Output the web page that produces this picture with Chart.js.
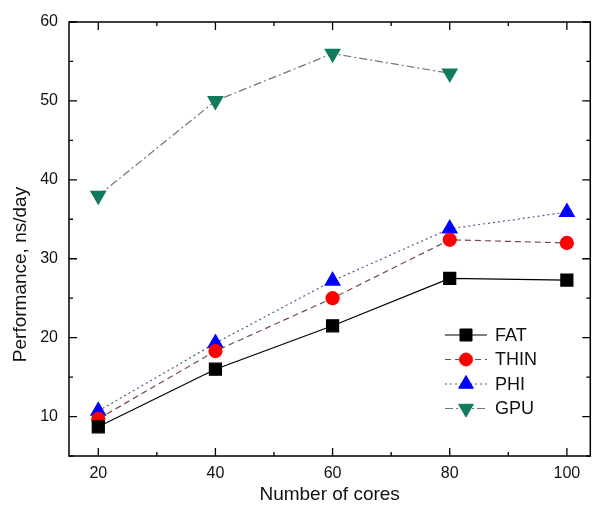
<!DOCTYPE html>
<html>
<head>
<meta charset="utf-8">
<script src="https://cdn.jsdelivr.net/npm/chart.js@4/dist/chart.umd.min.js"></script>
<style>
  html, body { margin: 0; padding: 0; background: #fff; }
  #wrap { width: 600px; height: 510px; position: relative; }
</style>
</head>
<body>
<div id="wrap"><canvas id="perfChart" width="600" height="510"></canvas></div>
<script>
// data
const cores = [20, 40, 60, 80, 100];
const fatValues = [8.7, 16.0, 21.5, 27.5, 27.3];
const thinValues = [9.7, 18.3, 25.0, 32.4, 32.0];
const phiValues = [10.7, 19.3, 27.2, 33.8, 35.9];
const gpuValues = [38.0, 50.0, 56.0, 53.5];
const xTicks = [20, 40, 60, 80, 100];
const yTicks = [10, 20, 30, 40, 50, 60];

const FONT = "'Liberation Sans', Arial, sans-serif";

function toPoints(vals) {
    return vals.map((v, i) => ({x: cores[i], y: v}));
}

function noPad(s) {
    s.paddingLeft = 0; s.paddingRight = 0;
    s.paddingTop = 0; s.paddingBottom = 0;
}

// frame + inward ticks (major and minor) on all four sides, y title
const frameTicks = {
    id: 'frameTicks',
    afterDraw(chart) {
        const ctx = chart.ctx;
        const a = chart.chartArea;
        const xs = chart.scales.x, ys = chart.scales.y;
        ctx.save();
        ctx.strokeStyle = '#000';
        ctx.lineWidth = 1.5;
        ctx.strokeRect(a.left, a.top, a.right - a.left, a.bottom - a.top);
        ctx.lineWidth = 1.3;
        ctx.beginPath();
        xTicks.forEach((t, i) => {
            const px = xs.getPixelForValue(t);
            ctx.moveTo(px, a.bottom); ctx.lineTo(px, a.bottom - 8);
            ctx.moveTo(px, a.top); ctx.lineTo(px, a.top + 8);
            if (i < xTicks.length - 1) {
                const m = xs.getPixelForValue((t + xTicks[i + 1]) / 2);
                ctx.moveTo(m, a.bottom); ctx.lineTo(m, a.bottom - 4);
                ctx.moveTo(m, a.top); ctx.lineTo(m, a.top + 4);
            }
        });
        const yMinor = [5].concat(yTicks.slice(0, -1).map((t, i) => (t + yTicks[i + 1]) / 2));
        yTicks.forEach(t => {
            const py = ys.getPixelForValue(t);
            ctx.moveTo(a.left, py); ctx.lineTo(a.left + 8, py);
            ctx.moveTo(a.right, py); ctx.lineTo(a.right - 8, py);
        });
        yMinor.forEach(t => {
            const py = ys.getPixelForValue(t);
            ctx.moveTo(a.left, py); ctx.lineTo(a.left + 4, py);
            ctx.moveTo(a.right, py); ctx.lineTo(a.right - 4, py);
        });
        ctx.stroke();

        // y axis title
        ctx.translate(21, ys.getPixelForValue(28));
        ctx.rotate(-Math.PI / 2);
        ctx.fillStyle = '#111';
        ctx.font = '19px ' + FONT;
        ctx.textAlign = 'center';
        ctx.textBaseline = 'middle';
        ctx.fillText('Performance, ns/day', 0, 0);
        ctx.restore();
    }
};

// legend drawn inside the plot, lower right
const innerLegend = {
    id: 'innerLegend',
    afterDraw(chart) {
        const ctx = chart.ctx;
        const a = chart.chartArea;
        const x0 = a.left + 376;
        const y0 = a.top + 313;
        ctx.save();
        chart.data.datasets.forEach((ds, i) => {
            const y = y0 + i * 24.5;
            ctx.strokeStyle = ds.borderColor;
            ctx.lineWidth = 1;
            ctx.setLineDash(ds.borderDash || []);
            ctx.beginPath();
            ctx.moveTo(x0, y); ctx.lineTo(x0 + 42, y);
            ctx.stroke();
            ctx.setLineDash([]);
            ctx.fillStyle = ds.pointBackgroundColor;
            ctx.strokeStyle = ds.pointBackgroundColor;
            Chart.helpers.drawPoint(ctx, {
                pointStyle: ds.pointStyle,
                radius: ds.pointRadius,
                rotation: ds.pointRotation || 0,
                borderWidth: 1
            }, x0 + 21, y);
            ctx.fillStyle = '#111';
            ctx.font = '18px ' + FONT;
            ctx.textBaseline = 'middle';
            ctx.fillText(ds.label, x0 + 50, y + 1);
        });
        ctx.restore();
    }
};

new Chart(document.getElementById('perfChart'), {
    type: 'line',
    data: {
        datasets: [
            {
                label: 'FAT', data: toPoints(fatValues),
                borderColor: '#000', borderWidth: 1.2,
                pointStyle: 'rect', pointRadius: 8.5,
                pointBackgroundColor: '#000', pointBorderColor: '#000'
            },
            {
                label: 'THIN', data: toPoints(thinValues),
                borderColor: '#7a4a4a', borderWidth: 1.2, borderDash: [6, 4],
                pointStyle: 'circle', pointRadius: 6.5,
                pointBackgroundColor: '#ff0000', pointBorderColor: '#ff0000'
            },
            {
                label: 'PHI', data: toPoints(phiValues),
                borderColor: '#5a5a8a', borderWidth: 1.2, borderDash: [2, 3],
                pointStyle: 'triangle', pointRadius: 8.5,
                pointBackgroundColor: '#0000ff', pointBorderColor: '#0000ff'
            },
            {
                label: 'GPU', data: toPoints(gpuValues),
                borderColor: '#6a7a76', borderWidth: 1.2, borderDash: [8, 3, 2, 3],
                pointStyle: 'triangle', pointRotation: 180, pointRadius: 8.5,
                pointBackgroundColor: '#117a5e', pointBorderColor: '#117a5e'
            }
        ]
    },
    options: {
        responsive: false,
        animation: false,
        layout: {padding: {left: 0, top: 22, right: 4, bottom: 0}},
        plugins: {
            legend: {display: false},
            tooltip: {enabled: false}
        },
        scales: {
            x: {
                type: 'linear', min: 15, max: 104,
                afterBuildTicks: s => { s.ticks = xTicks.map(v => ({value: v})); },
                afterFit: s => { s.height = 54; noPad(s); },
                grid: {display: false, drawTicks: false},
                border: {display: false},
                ticks: {color: '#111', font: {family: FONT, size: 16}, padding: 8},
                title: {display: true, text: 'Number of cores', color: '#111',
                        font: {family: FONT, size: 19}, padding: {top: 2}}
            },
            y: {
                type: 'linear', min: 5, max: 60,
                afterBuildTicks: s => { s.ticks = yTicks.map(v => ({value: v})); },
                afterFit: s => { s.width = 69; noPad(s); },
                grid: {display: false, drawTicks: false},
                border: {display: false},
                ticks: {color: '#111', font: {family: FONT, size: 16}, padding: 11},
                title: {display: false}
            }
        }
    },
    plugins: [frameTicks, innerLegend]
});
</script>
</body>
</html>
